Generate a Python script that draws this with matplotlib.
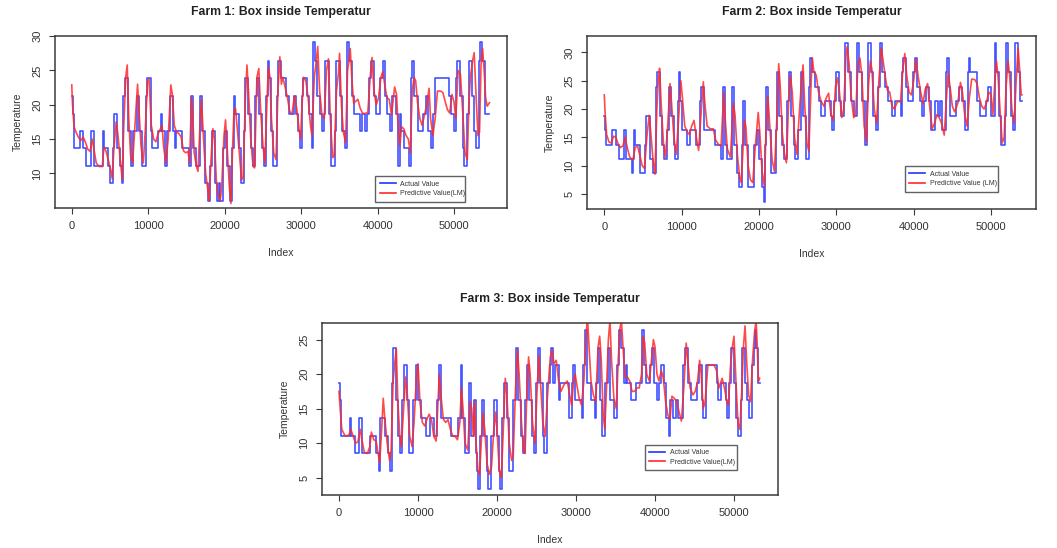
import matplotlib
matplotlib.use('Agg')
import matplotlib.pyplot as plt
from matplotlib.lines import Line2D

plt.rcParams['font.family'] = ['Liberation Sans', 'DejaVu Sans']

# ---------------- data ----------------
titles = ["Farm 1: Box inside Temperatur", "Farm 2: Box inside Temperatur", "Farm 3: Box inside Temperatur"]
legend_actual = "Actual Value"
legend_pred = ["Predictive Value(LM)", "Predictive Value (LM)", "Predictive Value(LM)"]
x_ticks = [0, 10000, 20000, 30000, 40000, 50000]
y_ticks = [[10, 15, 20, 25, 30], [5, 10, 15, 20, 25, 30], [5, 10, 15, 20, 25]]

# Farm 1 actual (step change points)
f1_act_idx = [0, 150, 300, 1100, 1500, 1900, 2500, 2900, 4050, 4250, 4750, 5050, 5350, 5550, 5950, 6300,
              6550, 6750, 6950, 7350, 7700, 8050, 8500, 8850, 9150, 9650, 9850, 10300, 10550, 11300, 11700,
              11850, 12150, 12500, 12850, 13200, 13500, 13650, 14450, 15300, 15550, 15850, 16300, 16750,
              17000, 17400, 17800, 18100, 18350, 18700, 19000, 19250, 19400, 19750, 20000, 20300, 20650,
              20950, 21150, 21400, 21800, 22100, 22550, 22700, 23100, 23450, 23750, 23950, 24150, 24500,
              24900, 25150, 25400, 25600, 25750, 26000, 26350, 26850, 27000, 27350, 28000, 28400, 29000,
              29300, 29600, 29850, 30050, 30250, 30700, 31000, 31350, 31550, 31850, 32100, 32500, 32700,
              32950, 33150, 33650, 33900, 34350, 34550, 35000, 35300, 35650, 35950, 36300, 36600, 36900,
              37700, 37950, 38300, 38600, 38900, 39100, 39450, 39750, 40300, 40700, 40950, 41250, 41650,
              41900, 42400, 42700, 42950, 43100, 43450, 44100, 44300, 44500, 44750, 45200, 45900, 46300,
              46600, 46950, 47250, 47500, 49300, 49600, 49900, 50200, 50400, 50700, 51100, 51300, 51700,
              51900, 52300, 52600, 52900, 53200, 53350, 53650, 53950, 54600]
f1_act_val = [21.3, 18.7, 13.7, 16.2, 13.7, 11.1, 16.2, 11.1, 16.2, 13.7, 11.1, 8.6, 13.7, 18.7, 13.7, 11.1,
              8.6, 21.3, 23.9, 16.2, 11.1, 16.2, 21.3, 16.2, 11.1, 21.3, 23.9, 16.2, 13.7, 16.2, 18.7,
              16.2, 11.1, 16.2, 21.3, 16.2, 13.7, 16.2, 13.7, 11.1, 21.3, 13.7, 11.1, 21.3,
              16.2, 8.6, 5.9, 11.1, 16.2, 8.6, 5.9, 8.6, 5.9, 13.7, 16.2, 11.1, 5.9,
              13.7, 21.3, 18.7, 13.7, 8.6, 16.2, 23.9, 18.7, 13.7, 11.1, 21.3, 23.9, 18.7,
              13.7, 11.1, 21.3, 26.4, 23.9, 16.2, 11.1, 21.3, 26.4, 23.9, 21.3, 18.7, 21.3,
              18.7, 16.2, 13.7, 21.3, 23.9, 21.3, 18.7, 13.7, 29.1, 26.4, 21.3, 18.7, 16.2,
              18.7, 26.4, 18.7, 11.1, 16.2, 26.4, 21.3, 16.2, 13.7, 29.1, 26.4, 21.3, 18.7,
              16.2, 18.7, 16.2, 18.7, 23.9, 26.4, 21.3, 18.7, 23.9, 26.4, 21.3, 18.7, 16.2,
              21.3, 18.7, 11.1, 18.7, 16.2, 13.7, 11.1, 23.9, 26.4, 21.3, 16.2, 18.7, 21.3,
              16.2, 13.7, 18.7, 23.9, 21.3, 18.7, 16.2, 23.9, 26.4, 21.3, 13.7, 11.1, 18.7,
              26.4, 21.3, 16.2, 13.7, 26.4, 29.1, 26.4, 18.7, 18.7]
# Farm 1 predicted
f1_pred_idx = [0, 100, 300, 600, 900, 1200, 1500, 1800, 2100, 2400, 2700, 2900, 3200, 3600, 4000, 4200, 4500,
               4800, 5100, 5300, 5500, 5800, 6000, 6300, 6600, 6800, 7050, 7250, 7450, 7700, 7950, 8200,
               8600, 8800, 9050, 9350, 9600, 9900, 10100, 10400, 10700, 11000, 11300, 11600, 11800, 12000,
               12300, 12600, 12950, 13150, 13400, 13700, 14000, 14300, 14600, 14900, 15200, 15400, 15650,
               15800, 16000, 16300, 16500, 16800, 16950, 17200, 17500, 17800, 17950, 18200, 18450, 18650,
               18900, 19100, 19400, 19600, 19900, 20100, 20300, 20600, 20800, 21000, 21200, 21400, 21600,
               21900, 22200, 22400, 22700, 22900, 23100, 23400, 23700, 23900, 24200, 24450, 24700, 25000,
               25250, 25500, 25700, 25900, 26100, 26400, 26700, 26950, 27200, 27400, 27600, 27900, 28200,
               28500, 28800, 29100, 29400, 29700, 29900, 30100, 30300, 30600, 30900, 31200, 31400, 31700,
               31900, 32150, 32400, 32700, 33000, 33300, 33550, 33800, 34100, 34300, 34600, 34850, 35000,
               35250, 35500, 35800, 36050, 36250, 36400, 36600, 36850, 37100, 37400, 37700, 38000, 38300,
               38700, 39000, 39250, 39500, 39800, 40100, 40400, 40650, 40900, 41200, 41500, 41800, 42000,
               42200, 42450, 42700, 42900, 43100, 43400, 43700, 44000, 44250, 44500, 44750, 44950, 45200,
               45500, 45800, 46100, 46400, 46700, 46900, 47200, 47500, 47800, 48200, 48500, 48800, 49100,
               49400, 49700, 49950, 50200, 50500, 50800, 51100, 51400, 51700, 51900, 52100, 52400, 52600,
               52900, 53100, 53300, 53500, 53700, 53900, 54100, 54300, 54600]
f1_pred_val = [22.9, 20.0, 16.8, 15.9, 15.2, 14.8, 15.3, 14.5, 13.5, 13.2, 15.0, 13.5, 11.5, 11.0, 11.0, 13.8, 13.2,
               11.8, 10.5, 9.2, 13.5, 17.5, 16.0, 12.5, 9.0, 17.0, 24.0, 25.8, 18.0, 12.5, 11.5, 16.0,
               23.0, 19.0, 14.0, 11.5, 16.0, 23.4, 23.8, 17.0, 15.0, 14.6, 15.8, 16.5, 17.0, 14.0,
               11.5, 15.0, 22.9, 21.5, 17.0, 16.0, 15.8, 15.3, 13.3, 13.0, 13.2, 11.5, 21.0,
               19.0, 13.0, 11.0, 10.3, 18.0, 20.8, 15.5, 10.0, 7.5, 6.0, 12.0, 16.5, 15.0,
               9.0, 7.0, 6.0, 8.0, 15.5, 17.8, 14.0, 8.0, 5.6, 13.0, 19.0, 19.5, 17.0,
               13.0, 9.0, 9.5, 21.0, 25.8, 22.0, 15.0, 11.0, 10.8, 24.0, 25.3, 19.0, 14.0,
               11.5, 20.0, 25.5, 24.0, 18.0, 13.0, 12.0, 22.0, 27.0, 23.0, 24.0, 22.5, 21.0,
               19.0, 18.7, 21.3, 19.5, 16.5, 15.0, 20.0, 24.0, 23.5, 21.0, 17.0, 15.5, 24.0,
               25.8, 28.5, 22.0, 18.5, 18.0, 25.0, 26.7, 18.0, 12.3, 12.5, 22.0, 24.5, 27.5,
               20.0, 16.0, 14.5, 25.0, 26.5, 28.2, 24.0, 20.2, 20.5, 20.8, 19.5, 18.8, 18.7,
               18.9, 24.0, 26.9, 22.0, 20.0, 21.0, 24.0, 24.8, 23.0, 21.0, 20.8, 18.5, 20.5,
               22.6, 21.5, 16.0, 14.0, 16.8, 16.5, 15.5, 15.0, 13.0, 22.0, 24.0, 23.5, 20.3,
               18.0, 17.0, 18.5, 20.0, 22.4, 18.0, 15.5, 18.0, 22.0, 22.0, 21.8, 20.5, 19.3,
               18.8, 21.5, 20.5, 18.0, 25.0, 24.5, 19.0, 13.0, 12.0, 20.0, 24.0, 26.5, 27.6,
               20.0, 15.5, 16.0, 26.0, 28.2, 25.0, 21.0, 19.8, 20.3]

# Farm 2 actual
f2_act_idx = [0, 150, 260, 1000, 1550, 1850, 2500, 2850, 3550, 3750, 3880, 4000, 4650, 5300, 5430, 5860, 5950,
              6350, 6650, 6800, 7150, 7500, 7750, 8050, 8320, 8650, 9000, 9200, 9500, 9610, 9850, 10050,
              10700, 11120, 11800, 12330, 12500, 12900, 14300, 15050, 15300, 15550, 15900, 16550, 16800,
              17100, 17400, 17800, 17950, 18200, 18600, 19350, 19700, 20050, 20350, 20600, 20750, 20900,
              21200, 21600, 22150, 22330, 22650, 23000, 23250, 23600, 23830, 24100, 24500, 24700, 25000,
              25400, 25750, 26050, 26450, 26650, 26850, 27300, 27700, 28050, 28550, 29350, 29450, 29750,
              29950, 30300, 30550, 31000, 31150, 31450, 31900, 32250, 32650, 32950, 33350, 33700, 34000,
              34150, 34450, 34800, 35150, 35350, 35600, 35900, 36350, 36700, 37200, 37650, 38300, 38450,
              38650, 38950, 39300, 39950, 40150, 40450, 40800, 41100, 41300, 41600, 41950, 42200, 42800,
              43100, 43450, 43700, 44200, 44350, 44550, 44750, 45500, 45900, 46300, 46700, 47000, 47150,
              47300, 48200, 48600, 49300, 49600, 50050, 50450, 50700, 51000, 51350, 51750, 51950, 52200,
              52550, 52900, 53150, 53450, 53700, 54000]
f2_act_val = [18.8, 16.3, 13.7, 16.3, 13.7, 11.2, 16.3, 11.2, 8.7, 11.2, 16.3, 13.7, 8.7, 13.7, 18.8, 13.7, 11.2,
              8.7, 23.9, 26.5, 18.8, 13.7, 11.2, 16.3, 23.9, 18.8, 13.7, 11.2, 21.4, 26.5, 21.4, 16.3,
              13.7, 16.3, 13.7, 21.4, 23.9, 16.3, 13.7, 11.2, 23.9, 13.7, 11.2, 23.9, 13.7,
              8.7, 6.2, 13.7, 21.4, 13.7, 6.2, 13.7, 16.3, 11.2, 6.2, 3.6, 13.7, 23.9,
              16.3, 8.7, 16.3, 26.5, 18.8, 13.7, 11.2, 21.4, 26.5, 18.8, 13.7, 11.2, 16.3,
              26.5, 18.8, 11.2, 23.9, 29.1, 26.5, 23.9, 21.4, 18.8, 21.4, 18.8, 16.3, 21.4,
              26.5, 21.4, 18.8, 21.4, 31.7, 26.5, 21.4, 18.8, 31.7, 26.5, 21.4, 13.7, 21.4,
              31.7, 26.5, 18.8, 16.3, 23.9, 31.7, 26.5, 23.9, 21.4, 18.8, 21.4, 18.8, 26.5,
              29.1, 23.9, 21.4, 26.5, 29.1, 23.9, 21.4, 18.8, 21.4, 23.9, 21.4, 16.3, 21.4,
              18.8, 21.4, 16.3, 26.5, 29.1, 23.9, 18.8, 21.4, 23.9, 21.4, 16.3, 26.5, 29.1,
              26.5, 21.4, 18.8, 21.4, 23.9, 18.8, 31.7, 26.5, 18.8, 13.7, 18.8, 31.7, 26.5,
              18.8, 16.3, 31.7, 26.5, 21.4, 21.4]
# Farm 2 predicted
f2_pred_idx = [0, 100, 300, 600, 900, 1200, 1500, 1800, 2100, 2400, 2700, 3000, 3300, 3700, 4000, 4300, 4600,
               4900, 5200, 5500, 5800, 6000, 6300, 6550, 6800, 7000, 7150, 7350, 7650, 7900, 8200, 8500,
               8700, 9000, 9300, 9600, 9900, 10100, 10400, 10700, 11000, 11300, 11600, 11900, 12200, 12500,
               12800, 13000, 13300, 13700, 14100, 14400, 14800, 15100, 15450, 15650, 15900, 16300, 16700,
               16900, 17200, 17500, 17700, 17900, 18100, 18300, 18600, 18900, 19200, 19500, 19900, 20100,
               20400, 20700, 20900, 21150, 21400, 21700, 22000, 22300, 22550, 22750, 23000, 23300, 23550,
               23850, 24050, 24300, 24600, 24900, 25200, 25500, 25700, 25900, 26200, 26450, 26750, 26900,
               27100, 27400, 27700, 28000, 28400, 28700, 29000, 29300, 29600, 29900, 30150, 30400, 30700,
               30950, 31250, 31400, 31650, 31900, 32250, 32500, 32800, 33050, 33300, 33600, 33900, 34150,
               34400, 34600, 34900, 35200, 35500, 35800, 36000, 36300, 36600, 36900, 37200, 37500, 37900,
               38300, 38600, 38850, 39100, 39400, 39700, 40000, 40300, 40550, 40900, 41200, 41500, 41800,
               42100, 42400, 42700, 43000, 43300, 43600, 43950, 44200, 44450, 44700, 45000, 45300, 45700,
               46050, 46300, 46600, 46900, 47200, 47500, 47900, 48200, 48500, 48800, 49100, 49400, 49700,
               50000, 50250, 50500, 50700, 50900, 51200, 51450, 51700, 51950, 52200, 52400, 52700, 53000,
               53250, 53500, 53700, 53900, 54000]
f2_pred_val = [22.5, 19.5, 15.5, 14.2, 14.0, 15.2, 15.0, 13.8, 13.2, 13.5, 15.0, 13.0, 11.5, 11.0, 13.2, 13.5, 11.8,
               10.0, 9.5, 15.0, 18.9, 16.0, 11.0, 8.5, 20.0, 25.5, 27.2, 21.0, 14.0, 11.5, 17.0, 24.5,
               21.0, 15.0, 12.0, 18.0, 25.0, 22.0, 17.0, 16.0, 15.5, 17.0, 18.0, 15.0, 12.7, 19.0,
               24.8, 21.0, 17.0, 16.5, 16.5, 14.5, 13.7, 13.5, 23.0, 18.0, 13.0, 11.5, 21.0,
               19.0, 12.0, 8.0, 7.0, 12.0, 18.0, 17.0, 10.0, 7.5, 7.0, 13.0, 19.4, 16.0,
               9.0, 6.3, 16.0, 22.3, 17.0, 11.0, 9.0, 18.0, 28.0, 24.0, 16.0, 12.0, 10.5,
               22.0, 26.0, 23.0, 15.0, 12.0, 19.0, 25.0, 27.8, 21.0, 14.0, 12.5, 25.0, 29.0,
               26.5, 26.0, 23.0, 21.5, 20.5, 22.0, 22.8, 19.0, 18.0, 24.0, 25.5, 23.0, 18.5,
               20.0, 29.5, 31.0, 28.0, 22.5, 18.5, 19.0, 28.0, 29.0, 26.0, 17.0, 14.2, 24.0,
               28.5, 27.0, 20.0, 17.5, 25.0, 30.8, 29.0, 26.0, 23.3, 23.0, 20.5, 20.0, 21.3,
               21.3, 27.0, 29.8, 26.0, 23.0, 22.5, 25.0, 28.8, 26.0, 23.0, 21.0, 23.5, 24.5,
               20.0, 16.5, 17.5, 19.0, 18.5, 17.5, 15.4, 21.0, 26.5, 24.0, 20.5, 19.5, 21.0,
               24.7, 23.0, 19.0, 17.0, 22.0, 25.3, 25.2, 24.5, 22.0, 20.5, 20.0, 21.0, 23.0,
               22.5, 19.0, 25.0, 28.5, 26.0, 19.0, 14.0, 15.0, 24.0, 28.5, 26.0, 20.0, 17.5,
               25.0, 30.8, 27.0, 22.5, 22.5]

# Farm 3 actual
f3_act_idx = [0, 150, 300, 1350, 1560, 1980, 2530, 2870, 3880, 4730, 5050, 5200, 5780, 6200, 6450, 6650, 6840,
              7200, 7470, 7700, 7950, 8250, 8550, 8900, 9400, 9750, 10050, 10350, 10970, 11480, 12000, 12400,
              12650, 12900, 14150, 15100, 15400, 15600, 15900, 16500, 16750, 17100, 17300, 17500, 17650,
              17900, 18150, 18400, 18700, 18860, 19300, 19650, 19950, 20200, 20340, 20600, 20900, 21300,
              21550, 22050, 22400, 22700, 23100, 23250, 23550, 23850, 24100, 24450, 24650, 24950, 25250,
              25450, 25800, 26000, 26300, 26650, 26900, 27150, 27400, 27800, 28000, 29100, 29450, 29600,
              29900, 30700, 30950, 31150, 31450, 31900, 32400, 32550, 32750, 33050, 33300, 33700, 34000,
              34300, 34800, 35200, 35450, 35700, 36100, 36350, 36500, 37000, 37650, 38300, 38400, 38650,
              38900, 39400, 39650, 39900, 40200, 40450, 40800, 41100, 41400, 41800, 41950, 42300, 42600,
              42950, 43600, 43850, 44200, 44550, 45300, 45600, 45900, 46050, 46400, 47800, 48000, 48400,
              49000, 49150, 49400, 49650, 50000, 50300, 50450, 50850, 51050, 51400, 51700, 51950, 52300,
              52500, 52600, 52800, 53100, 53250]
f3_act_val = [18.7, 16.2, 11.1, 13.7, 11.1, 8.6, 13.7, 8.6, 11.1, 8.6, 6.0, 13.7, 11.1, 8.6, 6.0, 18.7, 23.8,
              16.2, 11.1, 8.6, 16.2, 21.3, 16.2, 8.6, 16.2, 21.3, 16.2, 13.7, 11.1, 13.7, 11.1, 16.2,
              21.3, 13.7, 11.1, 13.7, 21.3, 13.7, 8.6, 18.7, 11.1, 16.2, 8.6, 6.0, 3.4,
              11.1, 16.2, 11.1, 6.0, 3.4, 11.1, 16.2, 11.1, 6.0, 3.4, 13.7, 18.7, 13.7,
              6.0, 16.2, 23.8, 16.2, 11.1, 8.6, 16.2, 21.3, 16.2, 11.1, 8.6, 18.7, 23.8,
              18.7, 11.1, 8.6, 18.7, 21.3, 23.8, 18.7, 21.3, 16.2, 18.7, 13.7, 18.7, 21.3,
              16.2, 13.7, 21.3, 26.4, 18.7, 16.2, 13.7, 18.7, 23.8, 16.2, 11.1, 18.7, 23.8,
              16.2, 13.7, 21.3, 26.4, 23.8, 18.7, 21.3, 18.7, 16.2, 18.7, 23.8, 26.4, 21.3,
              18.7, 21.3, 23.8, 18.7, 16.2, 18.7, 21.3, 18.7, 13.7, 11.1, 16.2, 13.7, 16.2,
              13.7, 21.3, 23.8, 18.7, 16.2, 18.7, 21.3, 16.2, 13.7, 21.3, 18.7, 16.2, 18.7,
              16.2, 13.7, 18.7, 23.8, 18.7, 13.7, 11.1, 16.2, 23.8, 18.7, 16.2, 13.7, 21.3,
              23.8, 26.4, 23.8, 18.7, 18.7]
# Farm 3 predicted
f3_pred_idx = [0, 150, 350, 700, 1000, 1300, 1500, 1800, 2100, 2400, 2700, 2900, 3200, 3600, 3900, 4100, 4400,
               4700, 4950, 5150, 5400, 5600, 5800, 6100, 6400, 6600, 6850, 7050, 7250, 7450, 7700, 7900,
               8200, 8450, 8650, 8950, 9250, 9500, 9800, 10000, 10250, 10550, 10850, 11150, 11400, 11700,
               12000, 12300, 12500, 12700, 12900, 13200, 13500, 13800, 14100, 14400, 14700, 15000, 15300,
               15500, 15700, 15950, 16300, 16600, 16800, 17000, 17150, 17350, 17600, 17800, 18000, 18230,
               18450, 18750, 19050, 19300, 19600, 19850, 20050, 20300, 20550, 20800, 21050, 21250, 21550,
               21850, 22050, 22350, 22600, 22800, 23100, 23350, 23550, 23800, 24000, 24200, 24500, 24800,
               25050, 25300, 25500, 25800, 26100, 26400, 26750, 27000, 27200, 27500, 27800, 28100, 28500,
               28900, 29200, 29450, 29700, 29900, 30100, 30400, 30700, 31000, 31250, 31450, 31650, 31900,
               32200, 32500, 32800, 33000, 33200, 33450, 33650, 33900, 34100, 34300, 34500, 34800, 35100,
               35350, 35550, 35750, 35950, 36200, 36500, 36800, 37100, 37400, 37700, 38000, 38300, 38500,
               38700, 38950, 39300, 39550, 39800, 40000, 40250, 40500, 40800, 41050, 41350, 41650, 41900,
               42150, 42450, 42750, 43050, 43350, 43650, 43950, 44150, 44450, 44800, 45100, 45400, 45650,
               45850, 46100, 46350, 46700, 47100, 47500, 47800, 48100, 48500, 48800, 49100, 49300, 49550,
               49800, 50000, 50250, 50500, 50750, 51000, 51200, 51400, 51600, 51850, 52100, 52350, 52600,
               52800, 52950, 53100, 53250]
f3_pred_val = [17.5, 15.0, 12.0, 11.2, 11.0, 11.3, 12.0, 11.0, 10.0, 10.2, 12.0, 10.5, 8.7, 8.5, 9.5, 11.6, 10.5,
               10.3, 8.5, 7.2, 12.0, 16.5, 13.5, 10.0, 7.5, 9.0, 19.0, 21.5, 23.7, 16.0, 11.0, 9.5,
               15.5, 19.6, 17.0, 11.0, 9.5, 13.0, 19.5, 21.5, 16.0, 13.0, 12.5, 13.5, 14.2, 13.5,
               11.0, 10.3, 15.0, 20.0, 17.0, 13.5, 13.0, 13.4, 12.0, 11.0, 11.0, 10.5, 13.0,
               18.0, 15.0, 10.0, 9.0, 16.0, 15.0, 11.0, 16.0, 10.0, 6.0, 5.5, 10.0, 14.3,
               12.0, 7.0, 5.5, 6.5, 12.0, 14.5, 11.0, 6.0, 5.0, 12.0, 19.4, 17.0, 10.0,
               7.5, 8.0, 18.0, 23.5, 20.0, 13.0, 9.0, 8.5, 18.0, 22.5, 20.0, 13.0, 10.0,
               17.0, 22.7, 19.0, 13.0, 11.0, 17.0, 22.5, 23.5, 21.5, 22.0, 19.0, 17.5, 18.5,
               19.0, 17.0, 15.5, 19.0, 20.0, 18.5, 16.5, 15.5, 19.0, 25.0, 28.5, 24.0, 19.0,
               17.0, 16.0, 24.0, 25.5, 22.0, 14.0, 12.0, 19.0, 25.0, 27.8, 22.0, 16.5, 15.0,
               22.0, 26.5, 27.8, 24.0, 19.6, 19.6, 19.0, 17.5, 17.5, 18.0, 18.0, 20.0, 25.5,
               24.5, 20.0, 19.0, 22.0, 25.0, 24.0, 20.0, 19.0, 20.5, 19.5, 16.0, 14.0, 13.5,
               16.8, 16.5, 16.0, 14.5, 13.2, 18.0, 24.5, 22.0, 18.0, 17.0, 17.5, 19.0, 22.0,
               20.0, 15.0, 16.0, 21.3, 21.3, 21.3, 20.5, 18.0, 19.4, 18.0, 16.0, 15.5, 21.0,
               24.0, 25.5, 19.0, 13.0, 12.0, 18.0, 24.0, 27.0, 22.0, 17.0, 16.0, 22.0, 26.0,
               27.8, 24.0, 19.0, 19.4]

# ---------------- layout ----------------
W, H = 1057, 548
fig = plt.figure(figsize=(W / 100, H / 100), dpi=100)

def rect(l, t, r, b):
    return [l / W, 1 - b / H, (r - l) / W, (b - t) / H]

panels = [
    dict(rect=rect(55, 36, 507, 208), xlim=(-2190, 56890), ylim=(4.95, 30.03),
         act=(f1_act_idx, f1_act_val), pred=(f1_pred_idx, f1_pred_val),
         leg=(0.708, 0.037, 0.200)),
    dict(rect=rect(587, 36, 1036, 209), xlim=(-2235, 55815), ylim=(2.35, 32.9),
         act=(f2_act_idx, f2_act_val), pred=(f2_pred_idx, f2_pred_val),
         leg=(0.708, 0.100, 0.207)),
    dict(rect=rect(322, 323, 778, 495), xlim=(-2152, 55573), ylim=(2.49, 27.41),
         act=(f3_act_idx, f3_act_val), pred=(f3_pred_idx, f3_pred_val),
         leg=(0.708, 0.145, 0.202)),
]

edge = '#3a3a3a'
blue = '#2233ff'
red = '#ff2a2a'

for i, p in enumerate(panels):
    ax = fig.add_axes(p['rect'])
    ax.plot(p['act'][0], p['act'][1], drawstyle='steps-post', color=blue, lw=1.2, alpha=0.85)
    ax.plot(p['pred'][0], p['pred'][1], color=red, lw=1.2, alpha=0.85)
    ax.set_xlim(*p['xlim'])
    ax.set_ylim(*p['ylim'])
    ax.set_xticks(x_ticks)
    ax.set_xticklabels([str(v) for v in x_ticks])
    ax.set_yticks(y_ticks[i])
    ax.set_yticklabels([str(v) for v in y_ticks[i]], rotation=90, va='center')
    ax.tick_params(axis='both', direction='out', length=4, width=0.8, colors=edge,
                   labelsize=8, labelcolor='#333333')
    ax.tick_params(axis='x', pad=5.5)
    ax.tick_params(axis='y', pad=5)
    for s in ax.spines.values():
        s.set_color(edge)
        s.set_linewidth(1.1)
    ax.text(0.5, 1.14, titles[i], transform=ax.transAxes, ha='center', va='center',
            fontsize=8.8, fontweight='bold', color='#222222')
    ax.text(0.5, -0.26, "Index", transform=ax.transAxes, ha='center', va='center',
            fontsize=7.5, color='#333333')
    ax.text(-0.082, 0.5, "Temperature", transform=ax.transAxes, ha='center', va='center',
            rotation=90, fontsize=7.5, color='#333333')
    x0, y0, w = p['leg']
    handles = [Line2D([], [], color=blue, lw=1.2), Line2D([], [], color=red, lw=1.2)]
    leg = ax.legend(handles, [legend_actual, legend_pred[i]], loc='lower left',
                    bbox_to_anchor=(x0, y0, w, 0.15), mode='expand', borderaxespad=0,
                    fontsize=5.0, frameon=True, fancybox=False, handlelength=2.3,
                    handletextpad=0.7, borderpad=0.65, labelspacing=0.35)
    leg.get_frame().set_edgecolor(edge)
    leg.get_frame().set_linewidth(1.0)
    for t in leg.get_texts():
        t.set_color('#333333')

fig.savefig('out.png', dpi=100)
